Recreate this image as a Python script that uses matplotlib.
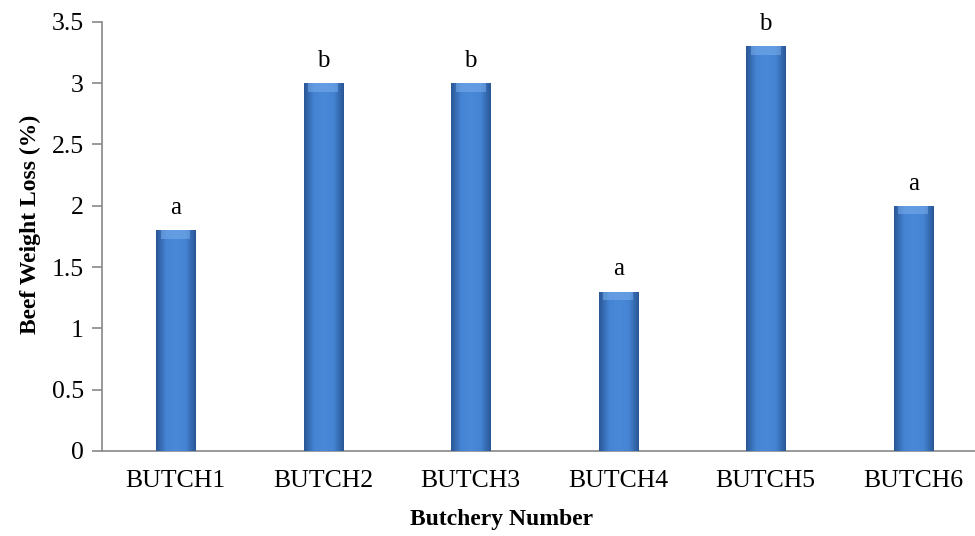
import matplotlib
matplotlib.use('Agg')
import matplotlib.pyplot as plt
import numpy as np
from matplotlib.colors import LinearSegmentedColormap

plt.rcParams['font.family'] = ['Liberation Serif', 'DejaVu Serif']

# data
butcheries = ['BUTCH1', 'BUTCH2', 'BUTCH3', 'BUTCH4', 'BUTCH5', 'BUTCH6']
weight_loss = [1.8, 3.0, 3.0, 1.3, 3.3, 2.0]
letters = ['a', 'b', 'b', 'a', 'b', 'a']

fig = plt.figure(figsize=(9.75, 5.36), dpi=100)
ax = fig.add_axes([0.1044, 0.159, 0.908, 0.8])

x = np.arange(len(butcheries))
bars = ax.bar(x, weight_loss, width=0.265, color='#3C78C8',
              edgecolor='#2B5A98', linewidth=0.6, zorder=2)

# bevel-ish shading on each bar
cmap = LinearSegmentedColormap.from_list('bev', ['#2A5796', '#4584D4', '#4A88D8', '#4584D4', '#2A5796'])
grad = np.linspace(0, 1, 64).reshape(1, -1)
for b in bars:
    bx, bw, bh = b.get_x(), b.get_width(), b.get_height()
    im = ax.imshow(grad, cmap=cmap, aspect='auto', zorder=3,
                   extent=(bx, bx + bw, 0, bh))
    im.set_clip_path(b)
    # lighter top cap
    ax.fill_between([bx + bw * 0.12, bx + bw * 0.88], bh - 0.07, bh,
                    color='#7FB2EE', alpha=0.5, zorder=4, linewidth=0)

for xi, v, lt in zip(x, weight_loss, letters):
    ax.annotate(lt, (xi, v), xytext=(0, 8), textcoords='offset points',
                ha='center', va='bottom', fontsize=18)

ax.set_xlim(-0.5, len(butcheries) - 0.5)
ax.set_ylim(0, 3.5)
ax.set_yticks(np.arange(0, 3.6, 0.5))
ax.set_yticklabels(['0', '0.5', '1', '1.5', '2', '2.5', '3', '3.5'])
ax.set_xticks(x)
ax.set_xticklabels(butcheries)
ax.tick_params(axis='x', length=0, labelsize=18.5, pad=14)
ax.tick_params(axis='y', length=7, width=1.2, color='#888888', labelsize=18.5, pad=6)

for s in ['top', 'right']:
    ax.spines[s].set_visible(False)
for s in ['left', 'bottom']:
    ax.spines[s].set_color('#888888')
    ax.spines[s].set_linewidth(1.2)

ax.set_xlabel('Butchery Number', fontsize=17, fontweight='bold', va='center')
ax.set_ylabel('Beef Weight Loss (%)', fontsize=17, fontweight='bold', va='center')
ax.xaxis.set_label_coords(0.452, -0.161)
ax.yaxis.set_label_coords(-0.081, 0.527)

fig.savefig('out.png', dpi=100)
